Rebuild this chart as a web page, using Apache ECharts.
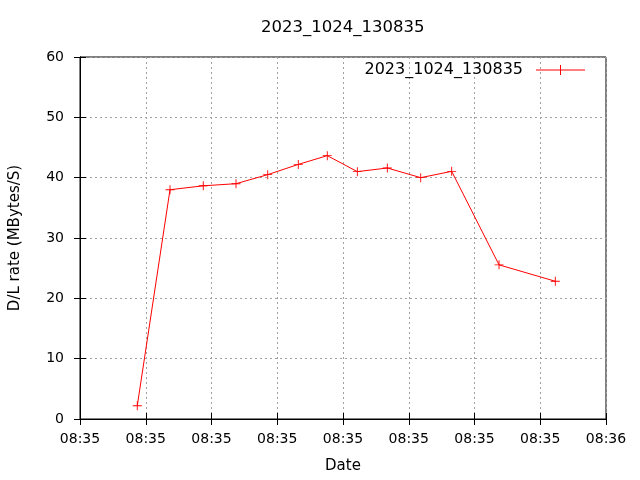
<!DOCTYPE html>
<html>
<head>
<meta charset="utf-8">
<script src="https://cdn.jsdelivr.net/npm/echarts@6/dist/echarts.min.js"></script>
<style>html,body{margin:0;padding:0;background:#fff}#c{width:640px;height:480px}</style>
</head>
<body>
<div id="c"></div>
<script>
var titleText = '2023_1024_130835';
var seriesName = '2023_1024_130835';
var xTickLabels = ['08:35','08:35','08:35','08:35','08:35','08:35','08:35','08:35','08:36'];
// x positions in tick units (each tick interval = 1)
var xPos = [0.871, 1.369, 1.875, 2.373, 2.855, 3.320, 3.761, 4.218, 4.674, 5.182, 5.653, 6.373, 7.229];
var rates = [2.2, 38.0, 38.65, 39.0, 40.5, 42.2, 43.65, 41.0, 41.6, 40.0, 41.05, 25.55, 22.83];

var FONT = 'DejaVu Sans';
var data = xPos.map(function (x, i) { return [x, rates[i]]; });
var cross = 'path://M0,4.5H10V5.5H0Z M4.5,0H5.5V10H4.5Z';

var chart = echarts.init(document.getElementById('c'), null, {renderer: 'canvas'});
chart.setOption({
  animation: false,
  backgroundColor: '#fff',
  title: {
    text: titleText,
    left: 261, top: 19, padding: 0,
    textStyle: {fontFamily: FONT, fontSize: 16.5, fontWeight: 'normal', color: '#000'}
  },
  legend: {
    right: 55, top: 62, padding: 0,
    align: 'right',
    itemWidth: 49, itemHeight: 10,
    textStyle: {fontFamily: FONT, fontSize: 16, color: '#000', padding: [0, 8, 0, 0]},
    data: [{name: seriesName, icon: 'path://M0,4.6H49V5.4H0Z M24,0H25V10H24Z'}]
  },
  grid: {left: 80, right: 34, top: 57, bottom: 61, show: true, borderColor: '#000', borderWidth: 1,
    containLabel: false, outerBoundsMode: 'none'},
  xAxis: [{
    type: 'value', min: 0, max: 8, interval: 1,
    name: 'Date', nameLocation: 'middle', nameGap: 40,
    nameTextStyle: {fontFamily: FONT, fontSize: 15, color: '#000'},
    axisLine: {show: true, lineStyle: {color: '#000'}},
    axisTick: {show: true, inside: true, length: 6, lineStyle: {color: '#000'}},
    axisLabel: {fontFamily: FONT, fontSize: 14, color: '#000', margin: 13,
      formatter: function (v) { return xTickLabels[Math.round(v)]; }},
    splitLine: {show: true, lineStyle: {color: '#a0a0a0', type: [2, 3], width: 1}}
  }, {
    type: 'value', min: 0, max: 8, interval: 1, position: 'top',
    axisLine: {show: true, lineStyle: {color: '#000'}},
    axisTick: {show: true, inside: true, length: 6, lineStyle: {color: '#000'}},
    axisLabel: {show: false}, splitLine: {show: false}
  }],
  yAxis: [{
    type: 'value', min: 0, max: 60, interval: 10,
    name: 'D/L rate (MBytes/S)', nameLocation: 'middle', nameGap: 57,
    nameTextStyle: {fontFamily: FONT, fontSize: 15, color: '#000'},
    axisLine: {show: true, lineStyle: {color: '#000'}},
    axisTick: {show: true, inside: true, length: 6, lineStyle: {color: '#000'}},
    axisLabel: {fontFamily: FONT, fontSize: 14, color: '#000', margin: 16},
    splitLine: {show: true, lineStyle: {color: '#a0a0a0', type: [2, 3], width: 1}}
  }, {
    type: 'value', min: 0, max: 60, interval: 10, position: 'right',
    axisLine: {show: true, lineStyle: {color: '#000'}},
    axisTick: {show: true, inside: true, length: 6, lineStyle: {color: '#000'}},
    axisLabel: {show: false}, splitLine: {show: false}
  }],
  series: [{
    name: seriesName,
    type: 'line',
    data: data,
    color: '#ff0000',
    lineStyle: {color: '#ff0000', width: 1},
    itemStyle: {color: '#ff0000'},
    symbol: cross,
    symbolSize: 9,
    showAllSymbol: true
  }]
});
</script>
</body>
</html>
